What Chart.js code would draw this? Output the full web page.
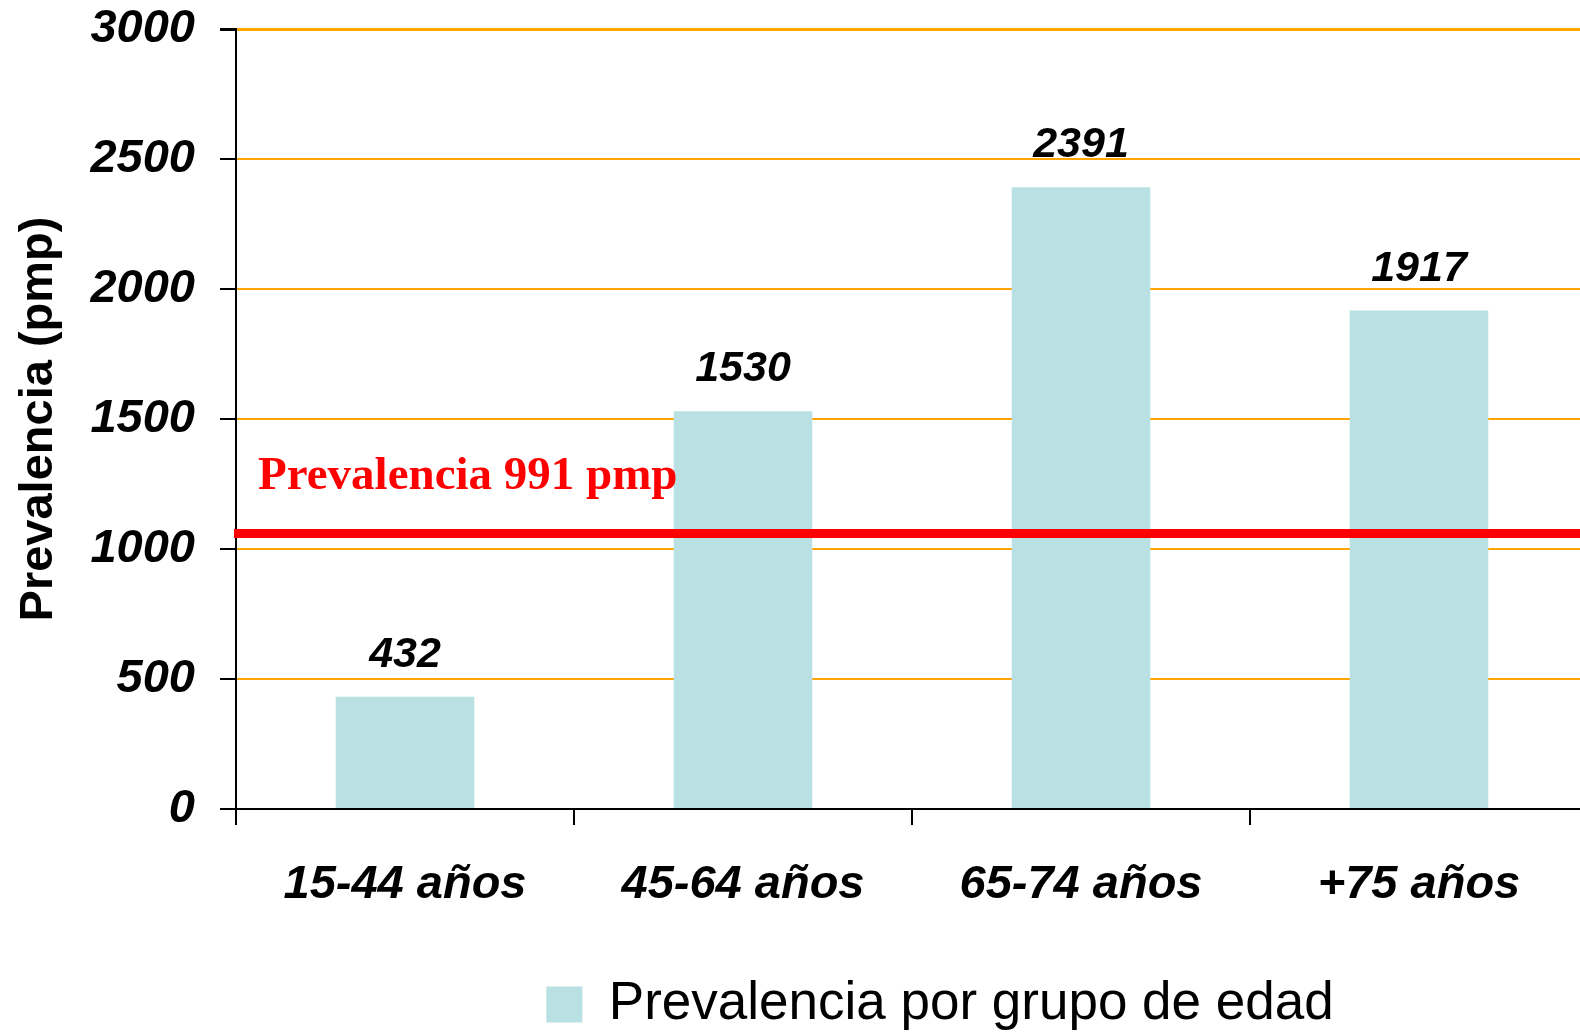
<!DOCTYPE html>
<html>
<head>
<meta charset="utf-8">
<script src="https://cdn.jsdelivr.net/npm/chart.js@4.4.1/dist/chart.umd.min.js"></script>
<style>
  html, body { margin: 0; padding: 0; background: #fff; overflow: hidden; }
  #wrap { position: relative; width: 1600px; height: 1034px; }
</style>
</head>
<body>
<div id="wrap"><canvas id="prevalencia"></canvas></div>
<script>
// Prevalencia por grupo de edad
const ageGroups = ['15-44 años', '45-64 años', '65-74 años', '+75 años'];
const prevalence = [432, 1530, 2391, 1917];
const yTicks = [0, 500, 1000, 1500, 2000, 2500, 3000];
const refLineValue = 1060;
const refLabel = 'Prevalencia 991 pmp';
const seriesLabel = 'Prevalencia por grupo de edad';

// value labels above every bar
const barValues = {
  id: 'barValues',
  afterDatasetsDraw(chart) {
    const ctx = chart.ctx;
    ctx.save();
    ctx.font = 'italic bold 43px "Liberation Sans", Arial, sans-serif';
    ctx.fillStyle = '#000';
    ctx.textAlign = 'center';
    ctx.textBaseline = 'alphabetic';
    chart.getDatasetMeta(0).data.forEach((bar, i) => {
      ctx.fillText(String(prevalence[i]), bar.x, bar.y - 30);
    });
    ctx.restore();
  }
};

// red reference line + its text
const refLine = {
  id: 'refLine',
  afterDatasetsDraw(chart) {
    const ctx = chart.ctx;
    const area = chart.chartArea;
    const y = chart.scales.y.getPixelForValue(refLineValue);
    ctx.save();
    ctx.strokeStyle = '#ff0000';
    ctx.lineWidth = 9;
    ctx.beginPath();
    ctx.moveTo(area.left - 2, y);
    ctx.lineTo(area.right + 20, y);
    ctx.stroke();
    ctx.fillStyle = '#ff0000';
    ctx.font = 'bold 47px "Liberation Serif", "Times New Roman", serif';
    ctx.textAlign = 'left';
    ctx.textBaseline = 'alphabetic';
    ctx.fillText(refLabel, area.left + 22, y - 44);
    ctx.restore();
  }
};

// legend sits a bit lower and to the right on the original slide
const legendShift = {
  id: 'legendShift',
  afterLayout(chart) {
    if (chart.legend) {
      chart.legend.top += 7;
      chart.legend.bottom += 7;
      chart.legend.left += 28;
      chart.legend.right += 28;
    }
  }
};

const ctx = document.getElementById('prevalencia').getContext('2d');
const chart = new Chart(ctx, {
  type: 'bar',
  data: {
    labels: ageGroups,
    datasets: [{
      label: seriesLabel,
      data: prevalence,
      backgroundColor: '#b9e0e3',
      borderWidth: 0,
      barPercentage: 0.41,
      categoryPercentage: 1.0
    }]
  },
  plugins: [barValues, refLine, legendShift],
  options: {
    responsive: true,
    maintainAspectRatio: false,
    animation: false,
    layout: {
      padding: { top: 29, right: 12, left: 0, bottom: 0 }
    },
    plugins: {
      title: { display: false },
      tooltip: { enabled: false },
      legend: {
        display: true,
        position: 'bottom',
        fullSize: false,
        labels: {
          boxWidth: 36,
          boxHeight: 36,
          padding: 3,
          color: '#000',
          font: { family: '"Liberation Sans", Arial, sans-serif', size: 53 }
        }
      }
    },
    scales: {
      x: {
        afterFit(scale) {
          scale.height = 159;
          scale.paddingLeft = 0;
          scale.paddingRight = 0;
        },
        grid: {
          offset: true,
          drawOnChartArea: false,
          drawTicks: true,
          tickLength: 16,
          tickColor: '#000',
          lineWidth: 2
        },
        border: { color: '#000', width: 2 },
        ticks: {
          padding: 32,
          color: '#000',
          maxRotation: 0,
          font: { family: '"Liberation Sans", Arial, sans-serif', size: 47, weight: 'bold', style: 'italic' }
        }
      },
      y: {
        min: 0,
        max: 3000,
        afterFit(scale) {
          scale.width = 236;
          scale.paddingTop = 0;
          scale.paddingBottom = 0;
        },
        afterBuildTicks(scale) {
          scale.ticks = yTicks.map(v => ({ value: v }));
        },
        grid: {
          color: '#ffa500',
          lineWidth: c => (c.tick && c.tick.value === 3000 ? 3 : 2),
          tickColor: '#000',
          tickLength: 16
        },
        border: { color: '#000', width: 2 },
        ticks: {
          padding: 25,
          color: '#000',
          callback: v => String(v),
          font: { family: '"Liberation Sans", Arial, sans-serif', size: 47, weight: 'bold', style: 'italic' }
        },
        title: {
          display: true,
          text: 'Prevalencia (pmp)',
          color: '#000',
          padding: { top: 11, bottom: 0 },
          font: { family: '"Liberation Sans", Arial, sans-serif', size: 47, weight: 'bold' }
        }
      }
    }
  }
});
</script>
</body>
</html>
